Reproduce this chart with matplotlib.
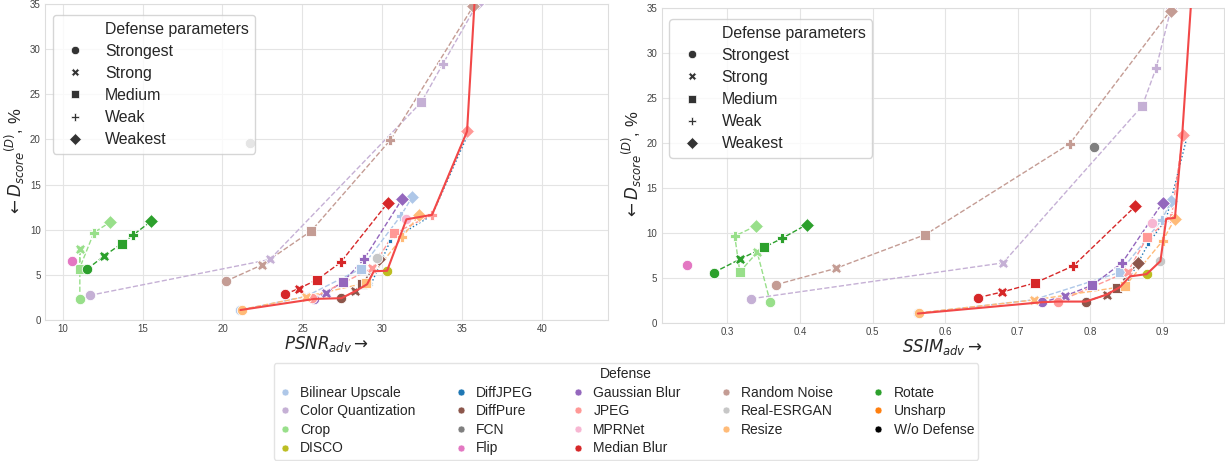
"""Defense trade-off: D_score vs PSNR / SSIM of adversarial images, per defense strength."""
import matplotlib
matplotlib.use("Agg")
import matplotlib.pyplot as plt
from matplotlib.lines import Line2D
import numpy as np
import seaborn as sns

nan = np.nan

LEVELS = ["Strongest", "Strong", "Medium", "Weak", "Weakest"]
MARKERS = ["o", "X", "s", "P", "D"]

DEFENSES = ["Bilinear Upscale", "Color Quantization", "Crop", "DISCO",
            "DiffJPEG", "DiffPure", "FCN", "Flip",
            "Gaussian Blur", "JPEG", "MPRNet", "Median Blur",
            "Random Noise", "Real-ESRGAN", "Resize",
            "Rotate", "Unsharp", "W/o Defense"]
COLORS = ["#aec7e8", "#c5b0d5", "#98df8a", "#bcbd22",
          "#1f77b4", "#8c564b", "#7f7f7f", "#e377c2",
          "#9467bd", "#ff9896", "#f7b6d2", "#d62728",
          "#c49c94", "#c7c7c7", "#ffbb78",
          "#2ca02c", "#ff7f0e", "#000000"]

# D_score (%), one value per defense level (Strongest .. Weakest)
D_SCORE = {
    "Bilinear Upscale":   [1.1, 2.6, 5.65, 11.5, 13.6],
    "Color Quantization": [2.72, 6.7, 24.15, 28.35, 35.1],
    "Crop":               [2.3, 7.88, 5.7, 9.68, 10.8],
    "DISCO":              [5.45, nan, nan, nan, nan],
    "DiffJPEG":           [nan, 4.0, 8.8, 11.6, 20.8],
    "DiffPure":           [2.4, 3.18, 3.95, nan, 6.7],
    "FCN":                [19.6, nan, nan, nan, nan],
    "Flip":               [6.5, nan, nan, nan, nan],
    "Gaussian Blur":      [2.33, 3.04, 4.22, 6.7, 13.4],
    "JPEG":               [2.4, 5.72, 9.58, 11.65, 20.9],
    "MPRNet":             [11.15, nan, nan, nan, nan],
    "Median Blur":        [2.85, 3.47, 4.47, 6.37, 12.97],
    "Random Noise":       [4.28, 6.08, 9.85, 19.95, 34.75],
    "Real-ESRGAN":        [6.9, nan, nan, nan, nan],
    "Resize":             [1.15, 2.58, 4.1, 9.15, 11.6],
    "Rotate":             [5.63, 7.1, 8.45, 9.42, 10.95],
}
PSNR = {
    "Bilinear Upscale":   [21.12, 25.2, 28.63, 31.13, 31.85],
    "Color Quantization": [11.69, 22.96, 32.44, 33.77, 35.95],
    "Crop":               [11.08, 11.08, 11.06, 11.96, 12.94],
    "DISCO":              [30.29, nan, nan, nan, nan],
    "DiffJPEG":           [nan, 29.3, 30.5, 33.1, 35.4],
    "DiffPure":           [27.44, 28.31, 28.73, nan, 29.8],
    "FCN":                [21.75, nan, nan, nan, nan],
    "Flip":               [10.56, nan, nan, nan, nan],
    "Gaussian Blur":      [25.75, 26.48, 27.54, 28.83, 31.23],
    "JPEG":               [25.6, 29.35, 30.71, 33.1, 35.29],
    "MPRNet":             [31.48, nan, nan, nan, nan],
    "Median Blur":        [23.9, 24.77, 25.92, 27.38, 30.33],
    "Random Noise":       [20.19, 22.44, 25.54, 30.5, 35.67],
    "Real-ESRGAN":        [29.67, nan, nan, nan, nan],
    "Resize":             [21.2, 25.2, 28.98, 31.23, 32.27],
    "Rotate":             [11.54, 12.6, 13.69, 14.42, 15.54],
}
SSIM = {
    "Bilinear Upscale":   [0.5625, 0.722, 0.841, 0.899, 0.912],
    "Color Quantization": [0.333, 0.680, 0.872, 0.891, 0.912],
    "Crop":               [0.359, 0.341, 0.317, 0.310, 0.339],
    "DISCO":              [0.878, nan, nan, nan, nan],
    "DiffJPEG":           [nan, 0.848, 0.880, 0.905, 0.934],
    "DiffPure":           [0.794, 0.823, 0.837, nan, 0.866],
    "FCN":                [0.806, nan, nan, nan, nan],
    "Flip":               [0.244, nan, nan, nan, nan],
    "Gaussian Blur":      [0.734, 0.766, 0.803, 0.844, 0.900],
    "JPEG":               [0.756, 0.852, 0.879, 0.912, 0.928],
    "MPRNet":             [0.886, nan, nan, nan, nan],
    "Median Blur":        [0.646, 0.679, 0.724, 0.777, 0.862],
    "Random Noise":       [0.367, 0.449, 0.573, 0.772, 0.911],
    "Real-ESRGAN":        [0.897, nan, nan, nan, nan],
    "Resize":             [0.564, 0.723, 0.848, 0.900, 0.917],
    "Rotate":             [0.281, 0.317, 0.351, 0.375, 0.409],
}

# best-trade-off frontier (solid red)
FRONT_PSNR = [21.12, 25.75, 27.44, 28.31, 29.04, 29.46, 30.29, 31.5, 33.1, 35.29, 35.8]
FRONT_PSNR_D = [1.1, 2.33, 2.41, 3.2, 3.95, 5.4, 5.45, 11.15, 11.65, 20.9, 36.5]
FRONT_SSIM = [0.5625, 0.734, 0.755, 0.794, 0.823, 0.841, 0.855, 0.878, 0.897, 0.905,
              0.917, 0.927, 0.940]
FRONT_SSIM_D = [1.07, 2.33, 2.4, 2.4, 3.18, 4.0, 5.2, 5.45, 6.9, 11.6, 11.7, 20.9, 36.5]

sns.set_style("whitegrid")
plt.rcParams["font.family"] = ["Liberation Sans", "DejaVu Sans"]
plt.rcParams["mathtext.fontset"] = "dejavusans"
plt.rcParams["grid.color"] = "#e4e4e4"

fig = plt.figure(figsize=(12.25, 4.61), dpi=100)
ax1 = fig.add_axes([0.0367, 0.306, 0.4596, 0.685])
ax2 = fig.add_axes([0.540, 0.299, 0.4588, 0.683])


def draw(ax, xs, front_x, front_y):
    for name, col in zip(DEFENSES, COLORS):
        if name not in D_SCORE:
            continue
        x = np.array(xs[name], dtype=float)
        y = np.array(D_SCORE[name], dtype=float)
        ok = ~np.isnan(x)
        ls = ":" if name == "DiffJPEG" else "--"
        ax.plot(x[ok], y[ok], ls=ls, lw=1.0, color=col, zorder=2)
        ms = 2.5 if name == "DiffJPEG" else 7.5
        for xi, yi, m in zip(x, y, MARKERS):
            if np.isnan(xi):
                continue
            ax.plot(xi, yi, marker=m, ms=ms, color=col, mec="white", mew=0.6,
                    ls="none", zorder=3)
    ax.plot(front_x, front_y, color="#f24848", lw=1.5, zorder=4)
    ax.set_ylim(0, 35)
    ax.tick_params(labelsize=7, colors="#444444", pad=3, length=0)
    for s in ax.spines.values():
        s.set_color("#dddddd")
    ax.set_ylabel(r"$\leftarrow D_{score}{}^{(D)}$, %", fontsize=12, labelpad=2)
    handles = [Line2D([], [], ls="none", marker="", label="Defense parameters")]
    for lvl, m in zip(LEVELS, MARKERS):
        handles.append(Line2D([], [], ls="none", marker=m, ms=6, color="#333333",
                              mec="white", mew=0.5, label=lvl))
    ax.legend(handles=handles, loc="upper left", fontsize=11.4, framealpha=0.8,
              handletextpad=0.9, labelspacing=0.45, borderpad=0.4,
              bbox_to_anchor=(0.0, 0.99))


draw(ax1, PSNR, FRONT_PSNR, FRONT_PSNR_D)
ax1.set_xlim(8.9, 44.1)
ax1.set_xticks([10, 15, 20, 25, 30, 35, 40])
ax1.set_xlabel(r"$PSNR_{adv} \rightarrow$", fontsize=12, labelpad=0)

draw(ax2, SSIM, FRONT_SSIM, FRONT_SSIM_D)
ax2.set_xlim(0.209, 0.984)
ax2.set_xticks([0.3, 0.4, 0.5, 0.6, 0.7, 0.8, 0.9])
ax2.set_xlabel(r"$SSIM_{adv} \rightarrow$", fontsize=12, labelpad=0)

hue_handles = [Line2D([], [], ls="none", marker="o", ms=5, color=c,
                      mec="white", mew=0.4, label=n)
               for n, c in zip(DEFENSES, COLORS)]
fig.legend(handles=hue_handles, title="Defense", ncol=5, loc="lower center",
           bbox_to_anchor=(0.511, 0.0), fontsize=10, title_fontsize=10,
           frameon=True, edgecolor="#dddddd", handlelength=1.0, handletextpad=0.6,
           columnspacing=2.75, labelspacing=0.33, borderpad=0.3, borderaxespad=0.1)

fig.savefig("out.png", dpi=100)
